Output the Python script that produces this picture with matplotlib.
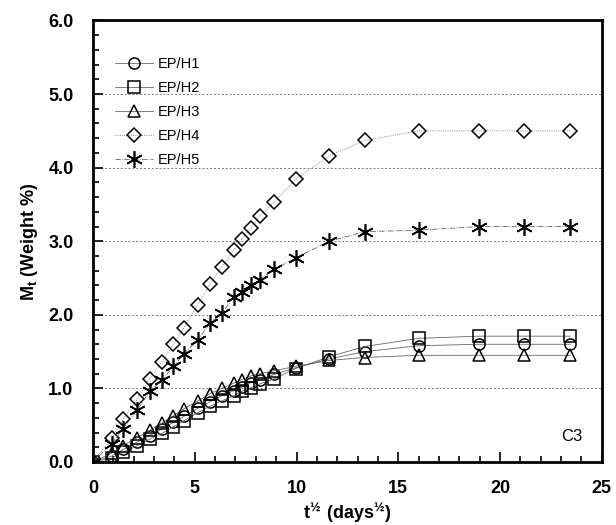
import matplotlib
matplotlib.use("Agg")
import matplotlib.pyplot as plt
from matplotlib.ticker import MultipleLocator, FormatStrFormatter

plt.rcParams["font.family"] = ["Liberation Sans", "DejaVu Sans"]
plt.rcParams["mathtext.fontset"] = "custom"
plt.rcParams["mathtext.rm"] = "Liberation Sans"
plt.rcParams["mathtext.bf"] = "Liberation Sans:bold"

# ─── Data ─────────────────────────────────────────────────────────────────────
t_half = [0, 0.91, 1.47, 2.16, 2.78, 3.39, 3.95, 4.46, 5.15, 5.76, 6.32, 6.91,
          7.31, 7.76, 8.19, 8.9, 9.95, 11.6, 13.35, 16.0, 18.95, 21.2, 23.45]

h1 = [0, 0.08, 0.17, 0.27, 0.36, 0.45, 0.54, 0.62, 0.73, 0.82, 0.90, 0.97,
      1.02, 1.08, 1.12, 1.19, 1.28, 1.40, 1.50, 1.58, 1.60, 1.60, 1.60]
h2 = [0, 0.05, 0.13, 0.22, 0.31, 0.39, 0.48, 0.56, 0.67, 0.76, 0.83, 0.90,
      0.96, 1.01, 1.06, 1.13, 1.27, 1.43, 1.57, 1.68, 1.71, 1.71, 1.71]
h3 = [0, 0.12, 0.22, 0.33, 0.43, 0.53, 0.63, 0.72, 0.83, 0.93, 1.00, 1.07,
      1.12, 1.17, 1.20, 1.24, 1.30, 1.38, 1.42, 1.45, 1.45, 1.45, 1.45]
h4 = [0, 0.32, 0.58, 0.85, 1.13, 1.36, 1.60, 1.82, 2.14, 2.42, 2.65, 2.88,
      3.03, 3.18, 3.34, 3.53, 3.84, 4.16, 4.37, 4.50, 4.50, 4.50, 4.50]
h5 = [0, 0.25, 0.45, 0.70, 0.96, 1.11, 1.30, 1.47, 1.66, 1.89, 2.02, 2.24,
      2.31, 2.41, 2.48, 2.62, 2.77, 3.00, 3.13, 3.15, 3.20, 3.20, 3.20]

labels = ["EP/H1", "EP/H2", "EP/H3", "EP/H4", "EP/H5"]

# ─── Plot ─────────────────────────────────────────────────────────────────────
fig = plt.figure(figsize=(6.16, 5.25), dpi=100)
ax = fig.add_axes([0.151, 0.12, 0.826, 0.841])

# (values, marker, line style, marker size, edge width)
styles = [
    (h1, "o", "-", 8, 1.1),
    (h2, "s", "-", 8, 1.1),
    (h3, "^", "-", 8, 1.1),
    (h4, "D", ":", 7, 1.1),
    (h5, (6, 2, 0), "-.", 12, 1.2),
]
for (ys, mk, ls, size, mew), lab in zip(styles, labels):
    ax.plot(t_half, ys, linestyle=ls, linewidth=0.6, color="#666666",
            marker=mk, markersize=size, markerfacecolor="none",
            markeredgecolor="black", markeredgewidth=mew, label=lab)

ax.set_xlim(0, 25)
ax.set_ylim(0, 6)
ax.xaxis.set_major_locator(MultipleLocator(5))
ax.xaxis.set_minor_locator(MultipleLocator(1))
ax.yaxis.set_major_locator(MultipleLocator(1))
ax.yaxis.set_minor_locator(MultipleLocator(0.2))
ax.yaxis.set_major_formatter(FormatStrFormatter("%.1f"))

ax.tick_params(which="both", direction="in", width=1.2, colors="black")
ax.tick_params(which="major", length=7, labelsize=13)
ax.tick_params(which="minor", length=4)
ax.tick_params(axis="x", pad=13)
ax.tick_params(axis="y", pad=14)
for lbl in ax.get_xticklabels() + ax.get_yticklabels():
    lbl.set_fontweight("bold")

for sp in ax.spines.values():
    sp.set_linewidth(2)

# horizontal dotted grid lines at each whole weight %
ax.yaxis.grid(True, which="major", linestyle=(0, (2, 2)), linewidth=0.7,
              color="#777777")
ax.set_axisbelow(True)

ax.set_xlabel(r"$\mathbf{t^{½}\ (days^{½})}$", fontsize=13, labelpad=3)
ax.set_ylabel(r"M$_\mathbf{t}$ (Weight %)", fontsize=13, fontweight="bold",
              labelpad=6)

ax.text(23.5, 0.35, "C3", fontsize=12, ha="center", va="center")

ax.legend(loc="upper left", bbox_to_anchor=(0.015, 0.95), frameon=False,
          fontsize=10.5, handlelength=2.6, labelspacing=0.68,
          handletextpad=0.3, borderaxespad=0.6)

fig.savefig("out.png", dpi=100)
